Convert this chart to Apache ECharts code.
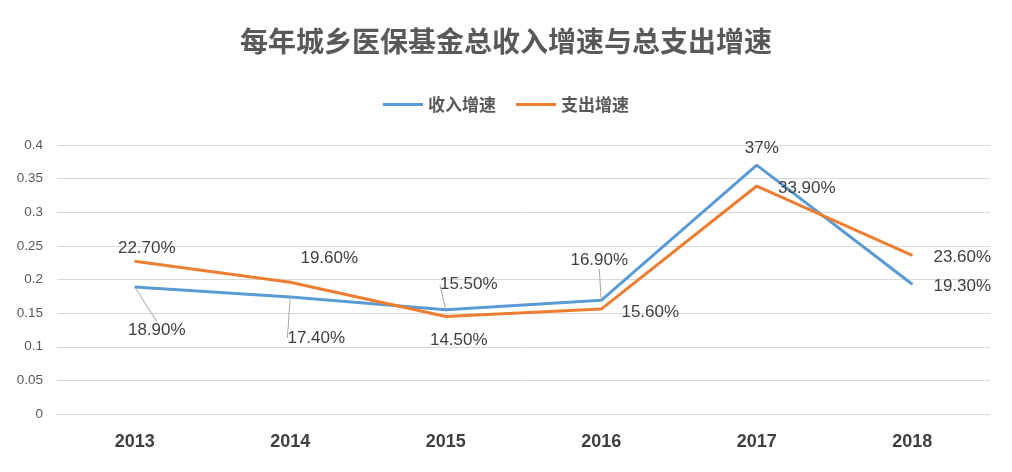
<!DOCTYPE html>
<html><head><meta charset="utf-8">
<script src="https://cdn.jsdelivr.net/npm/echarts@6/dist/echarts.min.js"></script>
<style>html,body{margin:0;padding:0;background:#fff}#c{width:1012px;height:472px}</style>
</head><body><div id="c"></div>
<script>
const years = ['2013','2014','2015','2016','2017','2018'];
const incomeGrowth = [0.189, 0.174, 0.155, 0.169, 0.37, 0.193];
const expenseGrowth = [0.227, 0.196, 0.145, 0.156, 0.339, 0.236];
const incomeLabels = ['18.90%','17.40%','15.50%','16.90%','37%','19.30%'];
const expenseLabels = ['22.70%','19.60%','14.50%','15.60%','33.90%','23.60%'];
const yTicks = [0, 0.05, 0.1, 0.15, 0.2, 0.25, 0.3, 0.35, 0.4];

// label placement (offsets of label centre from point)
const incomeOffsets = [[22,43],[26,41],[23,-25],[-2,-40],[5,-17],[50,2]];
const expenseOffsets = [[12,-13],[39,-24],[13,24],[49,3],[50,2],[50,2]];
const incomeLeader = [true,true,true,true,false,false];

const FONT = '"Noto Sans CJK SC", "Liberation Sans", sans-serif';
const NUMFONT = '"Liberation Sans", Arial, sans-serif';
const chart = echarts.init(document.getElementById('c'));

function mkData(vals, labels, leader){
  return vals.map((v,i)=>({
    value: v,
    label: {formatter: labels[i]},
    labelLine: {show: !!(leader && leader[i])}
  }));
}

chart.setOption({
  animation: false,
  textStyle: {fontFamily: FONT},
  title: {
    text: '每年城乡医保基金总收入增速与总支出增速',
    left: 'center', top: 22,
    textStyle: {fontSize: 28, fontWeight: 'bold', color: '#595959', fontFamily: FONT}
  },
  legend: {
    top: 91, left: 'center',
    itemWidth: 40, itemHeight: 3, itemGap: 20,
    icon: 'rect',
    textStyle: {fontSize: 17, fontWeight: 'bold', color: '#595959', fontFamily: FONT},
    data: ['收入增速','支出增速']
  },
  grid: {left: 57, right: 22, top: 145, bottom: 58, containLabel: false},
  xAxis: {
    type: 'category', data: years, boundaryGap: true,
    axisLine: {show: true, lineStyle: {color: '#d9d9d9'}},
    axisTick: {show: false},
    axisLabel: {fontSize: 18, fontWeight: 'bold', color: '#404040', margin: 19, fontFamily: NUMFONT}
  },
  yAxis: {
    type: 'value', min: 0, max: 0.4, interval: 0.05,
    axisLine: {show: false}, axisTick: {show: false},
    splitLine: {lineStyle: {color: '#d9d9d9'}},
    axisLabel: {
      fontSize: 13.5, color: '#595959', margin: 14, fontFamily: NUMFONT,
      formatter: v => { const t = yTicks.find(x => Math.abs(x - v) < 1e-9); return String(t !== undefined ? t : v); }
    }
  },
  series: [
    {
      name: '收入增速', type: 'line',
      data: mkData(incomeGrowth, incomeLabels, incomeLeader),
      symbol: 'circle', symbolSize: 1, showSymbol: true,
      color: '#5B9BD5',
      lineStyle: {width: 3, color: '#5B9BD5'},
      label: {show: true, position: 'inside', fontSize: 17, color: '#404040', fontFamily: NUMFONT},
      labelLine: {lineStyle: {color: '#a6a6a6', width: 1}},
      labelLayout: p => ({dx: incomeOffsets[p.dataIndex][0], dy: incomeOffsets[p.dataIndex][1]})
    },
    {
      name: '支出增速', type: 'line',
      data: mkData(expenseGrowth, expenseLabels, null),
      symbol: 'circle', symbolSize: 1, showSymbol: true,
      color: '#ED7D31',
      lineStyle: {width: 3, color: '#ED7D31'},
      label: {show: true, position: 'inside', fontSize: 17, color: '#404040', fontFamily: NUMFONT},
      labelLayout: p => ({dx: expenseOffsets[p.dataIndex][0], dy: expenseOffsets[p.dataIndex][1]})
    }
  ]
});
</script></body></html>
